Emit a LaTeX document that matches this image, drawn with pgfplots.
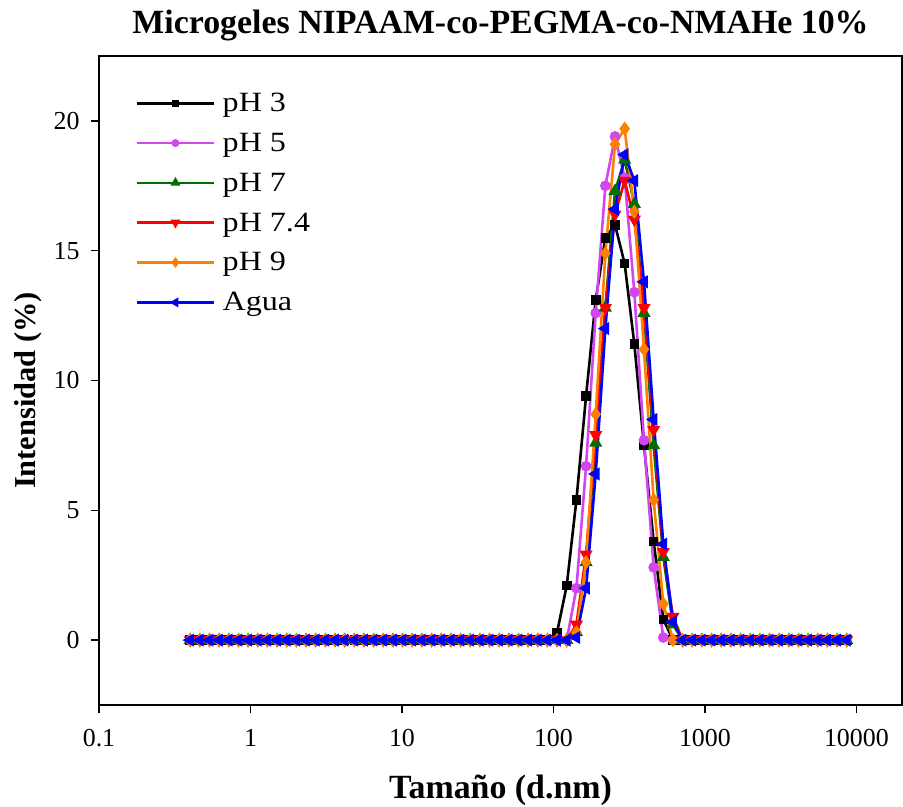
\documentclass[border=0pt]{standalone}
\usepackage{fontspec}
\setmainfont{Liberation Serif}
\newfontfamily\legfont[FakeStretch=1.15]{Liberation Serif}
\usepackage{pgfplots}
\usepackage{pgfplotstable}
\pgfplotsset{compat=1.18}
\definecolor{cmag}{RGB}{210,70,240}
\definecolor{cgreen}{RGB}{0,110,0}
\definecolor{corange}{RGB}{255,128,0}

\pgfplotstableread{
x pHa pHb pHc pHd pHe agua
0.4000 0 0 0 0 0 0
0.4632 0 0 0 0 0 0
0.5365 0 0 0 0 0 0
0.6213 0 0 0 0 0 0
0.7195 0 0 0 0 0 0
0.8332 0 0 0 0 0 0
0.9649 0 0 0 0 0 0
1.117 0 0 0 0 0 0
1.294 0 0 0 0 0 0
1.499 0 0 0 0 0 0
1.736 0 0 0 0 0 0
2.010 0 0 0 0 0 0
2.328 0 0 0 0 0 0
2.696 0 0 0 0 0 0
3.122 0 0 0 0 0 0
3.615 0 0 0 0 0 0
4.187 0 0 0 0 0 0
4.849 0 0 0 0 0 0
5.615 0 0 0 0 0 0
6.503 0 0 0 0 0 0
7.531 0 0 0 0 0 0
8.721 0 0 0 0 0 0
10.10 0 0 0 0 0 0
11.70 0 0 0 0 0 0
13.54 0 0 0 0 0 0
15.69 0 0 0 0 0 0
18.17 0 0 0 0 0 0
21.04 0 0 0 0 0 0
24.36 0 0 0 0 0 0
28.21 0 0 0 0 0 0
32.67 0 0 0 0 0 0
37.84 0 0 0 0 0 0
43.82 0 0 0 0 0 0
50.75 0 0 0 0 0 0
58.77 0 0 0 0 0 0
68.06 0 0 0 0 0 0
78.82 0 0 0 0 0 0
91.28 0 0 0 0 0 0
105.7 0.3 0 0 0 0 0
122.4 2.1 0 0 0 0 0
141.8 5.4 2.0 0.3 0.6 0.3 0.1
164.2 9.4 6.7 3.0 3.3 3.0 2.0
190.1 13.1 12.6 7.6 7.9 8.7 6.4
220.2 15.5 17.5 12.8 12.8 14.9 12.0
255.0 16.0 19.4 17.3 16.4 19.1 16.6
295.3 14.5 17.8 18.5 17.7 19.7 18.7
342.0 11.4 13.4 16.8 16.2 16.5 17.7
396.1 7.5 7.7 12.6 12.8 11.2 13.8
458.7 3.8 2.8 7.5 8.1 5.4 8.5
531.2 0.8 0.1 3.2 3.4 1.4 3.7
615.1 0 0 0.6 0.9 0 0.7
712.4 0 0 0 0 0 0
825.0 0 0 0 0 0 0
955.4 0 0 0 0 0 0
1106 0 0 0 0 0 0
1281 0 0 0 0 0 0
1484 0 0 0 0 0 0
1718 0 0 0 0 0 0
1990 0 0 0 0 0 0
2305 0 0 0 0 0 0
2669 0 0 0 0 0 0
3091 0 0 0 0 0 0
3580 0 0 0 0 0 0
4145 0 0 0 0 0 0
4801 0 0 0 0 0 0
5560 0 0 0 0 0 0
6439 0 0 0 0 0 0
7456 0 0 0 0 0 0
8635 0 0 0 0 0 0
}\data

\begin{document}
\begin{tikzpicture}
\begin{axis}[
  at={(0,0)}, anchor=south west,
  scale only axis, width=803bp, height=649bp,
  xmode=log, xmin=0.1, xmax=20000, ymin=-2.5, ymax=22.5,
  xtick={0.1,1,10,100,1000,10000},
  xticklabels={0.1,1,10,100,1000,10000},
  ytick={0,5,10,15,20},
  xminorticks=false, yminorticks=false,
  tick align=outside, xtick pos=left, ytick pos=left,
  major tick length=8bp,
  every tick/.style={black, line width=1.5bp},
  axis line style={line width=1.5bp},
  ticklabel style={font=\fontsize{26}{30}\selectfont},
  xticklabel style={yshift=-13bp},
  yticklabel style={xshift=-8bp},
  /pgf/number format/assume math mode=true,
  xlabel={Tamaño (d.nm)}, ylabel={Intensidad (\%)},
  xlabel style={font=\fontsize{34}{38}\selectfont\bfseries, at={(axis description cs:0.5,-0.1448)}, anchor=base},
  ylabel style={font=\fontsize{30.5}{34}\selectfont\bfseries, at={(axis description cs:-0.088,0.4846)}, anchor=center},
  title={Microgeles NIPAAM-co-PEGMA-co-NMAHe 10\%},
  title style={font=\fontsize{34}{38}\selectfont\bfseries, at={(axis description cs:0.5,1.0262)}, anchor=base},
  legend style={draw=none, fill=none, at={(axis description cs:0.046,0.946)}, anchor=north west,
    font=\legfont\fontsize{28}{32}\selectfont, inner sep=0pt, row sep=16bp,
    /tikz/every odd column/.append style={column sep=5bp}},
  legend cell align=left,
  legend image code/.code={\draw[line width=2.6bp, mark repeat=2, mark phase=2, every mark/.append style={scale=0.65}] plot coordinates {(0bp,0bp) (38bp,0bp) (77bp,0bp)};},
  lw/.style={line width=2.6bp},
]
\addplot[lw, black, mark=square*, mark size=3.5bp, mark options={solid}] table[x=x, y=pHa] {\data};
\addlegendentry{pH 3}
\addplot[lw, cmag, mark=*, mark size=4bp, mark options={solid}] table[x=x, y=pHb] {\data};
\addlegendentry{pH 5}
\addplot[lw, cgreen, mark=triangle*, mark size=5bp, mark options={solid}] table[x=x, y=pHc] {\data};
\addlegendentry{pH 7}
\addplot[lw, red, mark=triangle*, mark size=5bp, mark options={solid, rotate=180}] table[x=x, y=pHd] {\data};
\addlegendentry{pH 7.4}
\addplot[lw, corange, mark=diamond*, mark size=5bp, mark options={solid}] table[x=x, y=pHe] {\data};
\addlegendentry{pH 9}
\addplot[lw, blue, mark=triangle*, mark size=5bp, mark options={solid, rotate=90}] table[x=x, y=agua] {\data};
\addlegendentry{Agua}
\end{axis}
\pgfresetboundingbox
\path[use as bounding box] (-99bp,-102bp) rectangle (804bp,705bp);
\end{tikzpicture}
\end{document}
